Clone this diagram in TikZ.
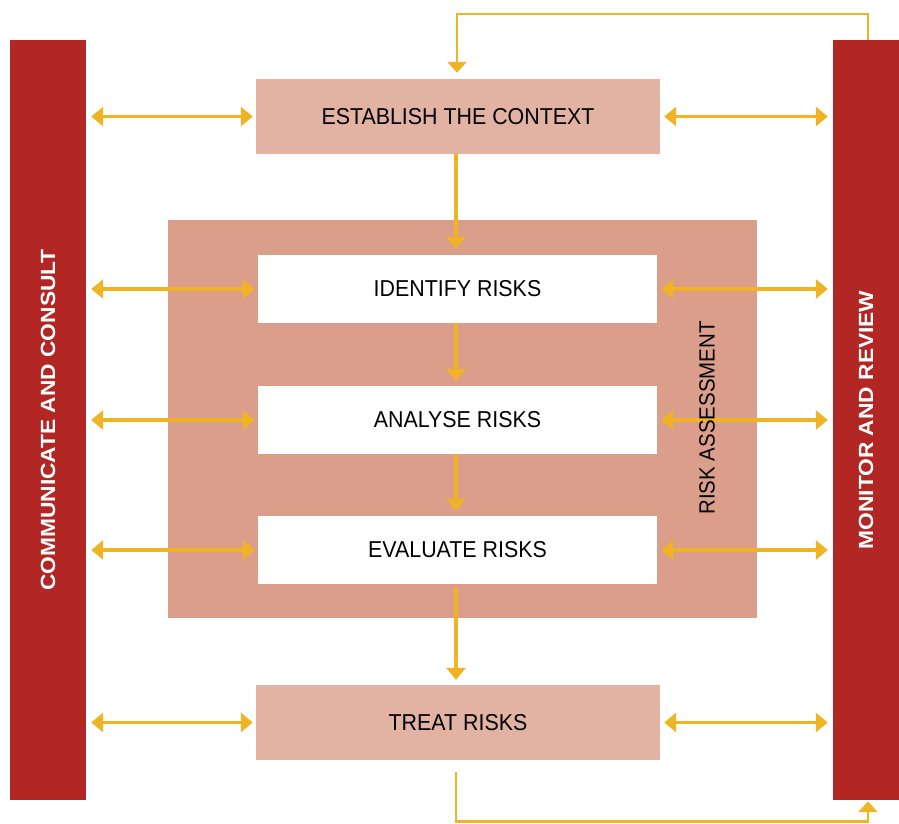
\documentclass[tikz,border=0pt]{standalone}
\usepackage{fontspec}
\setmainfont{Liberation Sans}
\newfontfamily\boxfont[FakeStretch=0.93]{Liberation Sans}
\newfontfamily\barfont[FakeStretch=1.11]{Liberation Sans}
\usetikzlibrary{arrows.meta}
\definecolor{barred}{HTML}{B22624}
\definecolor{lightfill}{HTML}{E2B3A3}
\definecolor{riskfill}{HTML}{DB9E8A}
\definecolor{gold}{HTML}{F0B323}
\begin{document}
\begin{tikzpicture}[x=1pt,y=-1pt,
  bar/.style={fill=barred, draw=none, inner sep=0pt, minimum height=760pt},
  bartext/.style={text=white, font=\barfont\bfseries\fontsize{20.5}{24}\selectfont, rotate=90},
  lightbox/.style={fill=lightfill, draw=none, inner sep=0pt, minimum width=404pt, minimum height=75pt, font=\boxfont\fontsize{23}{26}\selectfont},
  whitebox/.style={fill=white, draw=none, inner sep=0pt, minimum width=399pt, minimum height=68pt, font=\boxfont\fontsize{23}{26}\selectfont},
  dbl/.style={draw=gold, line width=3.5pt, {Triangle[length=12pt,width=19pt]}-{Triangle[length=12pt,width=19pt]}},
  down/.style={draw=gold, line width=3.5pt, -{Triangle[length=12pt,width=19pt]}},
  loop/.style={draw=gold, line width=2.5pt, -{Triangle[length=11pt,width=19pt]}}
]
\useasboundingbox (0,0) rectangle (899,823);
% bars
\node[bar, minimum width=76pt] (cc) at (48,420) {};
\node[bar, minimum width=66pt] (mr) at (866,420) {};
\node[bartext] (cct) at (cc.center) {COMMUNICATE AND CONSULT};
\node[bartext] (mrt) at (mr.center) {MONITOR AND REVIEW};
% risk assessment box
\node[fill=riskfill, draw=none, inner sep=0pt, minimum width=589pt, minimum height=398pt] (ra) at (462.5,419) {};
% boxes
\node[lightbox] (est) at (458,116.5) {ESTABLISH THE CONTEXT};
\node[whitebox] (idr) at (457.5,289) {IDENTIFY RISKS};
\node[whitebox] (anr) at (457.5,420) {ANALYSE RISKS};
\node[whitebox] (evr) at (457.5,550) {EVALUATE RISKS};
\node[lightbox] (trt) at (458,722.5) {TREAT RISKS};
% horizontal double arrows
\foreach \b in {est,idr,anr,evr,trt}{
  \draw[dbl] ([xshift=5pt]cc.east |- \b.west) -- ([xshift=-3pt]\b.west);
  \draw[dbl] ([xshift=4pt]\b.east) -- ([xshift=-5pt]mr.west |- \b.east);
}
% label over arrows
\node[rotate=90, font=\boxfont\fontsize{22}{26}\selectfont] (rat) at (707,418) {RISK ASSESSMENT};
% vertical arrows
\draw[down] (est.south -| 456,0) -- ([yshift=6pt]idr.north -| 456,0);
\draw[down] (idr.south -| 456,0) -- ([yshift=5pt]anr.north -| 456,0);
\draw[down] (anr.south -| 456,0) -- ([yshift=5pt]evr.north -| 456,0);
\draw[down] ([yshift=-4pt]evr.south -| 456,0) -- ([yshift=5pt]trt.north -| 456,0);
% loops
\coordinate (tl1) at (mr.north -| 868,0);
\coordinate (tl2) at ([yshift=6pt]est.north -| 457,0);
\draw[loop] (tl1) -- (868,14) -- (457,14) -- (tl2);
\coordinate (bl1) at ([yshift=-12pt]trt.south -| 456,0);
\coordinate (bl2) at ([yshift=-1pt]mr.south -| 868,0);
\draw[loop] (bl1) -- (456,821.5) -- (868,821.5) -- (bl2);
\end{tikzpicture}
\end{document}
